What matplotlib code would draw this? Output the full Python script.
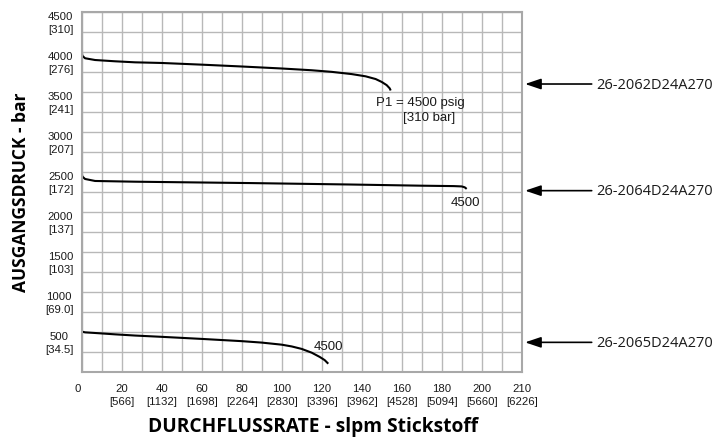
import matplotlib.pyplot as plt
import matplotlib.transforms as mtransforms

# Kennlinien (Durchfluss slpm, Ausgangsdruck psig)
x_2062 = [0, 0.3, 1.7, 6.7, 16.7, 26.7, 40, 60, 80, 100, 115, 125, 135, 142, 147, 150, 152.5, 154, 154.5]
y_2062 = [4013, 3950, 3918, 3896, 3880, 3867, 3859, 3838, 3815, 3790, 3768, 3748, 3720, 3692, 3658, 3622, 3582, 3542, 3515]

x_2064 = [0, 0.3, 1.7, 6.7, 26.7, 60, 84, 134, 170, 186, 190, 191.5, 192.5]
y_2064 = [2495, 2440, 2409, 2384, 2375, 2365, 2358, 2340, 2325, 2320, 2316, 2305, 2285]

x_2065 = [0, 0.3, 1.7, 6.7, 16.7, 26.7, 40, 60, 80, 90, 100, 105, 110, 115, 119, 121.5, 123.3]
y_2065 = [512, 500, 492, 484, 467, 452, 436, 410, 382, 364, 338, 316, 285, 238, 185, 145, 100]

x_ticks = [0, 20, 40, 60, 80, 100, 120, 140, 160, 180, 200, 220]
x_labels = ["0", "20\n[566]", "40\n[1132]", "60\n[1698]", "80\n[2264]", "100\n[2830]",
            "120\n[3396]", "140\n[3962]", "160\n[4528]", "180\n[5094]", "200\n[5660]",
            "210\n[6226]"]
y_ticks = [500, 1000, 1500, 2000, 2500, 3000, 3500, 4000, 4500]
y_labels = ["500\n[34.5]", "1000\n[69.0]", "1500\n[103]", "2000\n[137]", "2500\n[172]",
            "3000\n[207]", "3500\n[241]", "4000\n[276]", "4500\n[310]"]

modelle = ["26-2062D24A270", "26-2064D24A270", "26-2065D24A270"]
pfeil_y = [3596, 2263, 367]

fig = plt.figure(figsize=(7.17, 4.39), dpi=100)
ax = fig.add_axes([0.1139, 0.151, 0.6137, 0.8201])

ax.set_xlim(0, 220)
ax.set_ylim(0, 4500)

# Gitter
ax.set_xticks(range(0, 221, 10), minor=True)
ax.set_yticks(range(0, 4501, 250), minor=True)
ax.grid(True, which='both', color='#b8b8b8', linewidth=1.0)
ax.set_axisbelow(True)
ax.tick_params(which='both', length=0)
for s in ax.spines.values():
    s.set_color('#a8a8a8')
    s.set_linewidth(1.5)

ax.set_xticks(x_ticks)
ax.set_xticklabels(x_labels, fontsize=8.2, family='Liberation Sans', color='#1a1a1a',
                   linespacing=1.4, va='top')
ax.set_yticks(y_ticks)
ax.set_yticklabels(y_labels, fontsize=8.2, family='Liberation Sans', color='#1a1a1a',
                   linespacing=1.35, multialignment='center')
ax.tick_params(axis='x', pad=8)
ax.tick_params(axis='y', pad=6)

# erste Zeile der y-Beschriftung auf Gitterlinie
off = mtransforms.ScaledTranslation(0, -6 / 72, fig.dpi_scale_trans)
for lab in ax.get_yticklabels():
    lab.set_transform(lab.get_transform() + off)
off0 = mtransforms.ScaledTranslation(-3 / 72, 0, fig.dpi_scale_trans)
lab0 = ax.get_xticklabels()[0]
lab0.set_transform(lab0.get_transform() + off0)

# Kurven
for xs, ys in [(x_2062, y_2062), (x_2064, y_2064), (x_2065, y_2065)]:
    ax.plot(xs, ys, color='black', linewidth=1.5, solid_capstyle='butt')

txt = dict(fontsize=9.5, family='Liberation Sans', ha='center', va='center', color='#1a1a1a')
ax.text(169.2, 3368, "P1 = 4500 psig", **txt)
ax.text(173.9, 3180, "[310 bar]", **txt)
ax.text(191.7, 2118, "4500", **txt)
ax.text(123.2, 325, "4500", **txt)

# Pfeile rechts
for name, yy in zip(modelle, pfeil_y):
    ax.annotate("", xy=(221.7, yy), xytext=(255, yy), annotation_clip=False,
                arrowprops=dict(arrowstyle='-|>,head_length=0.8,head_width=0.27',
                                color='black', linewidth=1.2, mutation_scale=12,
                                shrinkA=0, shrinkB=0))
    ax.text(257.5, yy, name, fontsize=10.5, family='Open Sans', ha='left',
            va='center', color='#1a1a1a', clip_on=False)

ax.set_xlabel("DURCHFLUSSRATE - slpm Stickstoff", fontsize=13.8, family='Open Sans',
              fontweight='bold')
ax.xaxis.set_label_coords(0.526, -0.122)
ax.set_ylabel("AUSGANGSDRUCK - bar", fontsize=12.5, family='Open Sans',
              fontweight='bold', labelpad=11)

fig.savefig("out.png", dpi=100)
